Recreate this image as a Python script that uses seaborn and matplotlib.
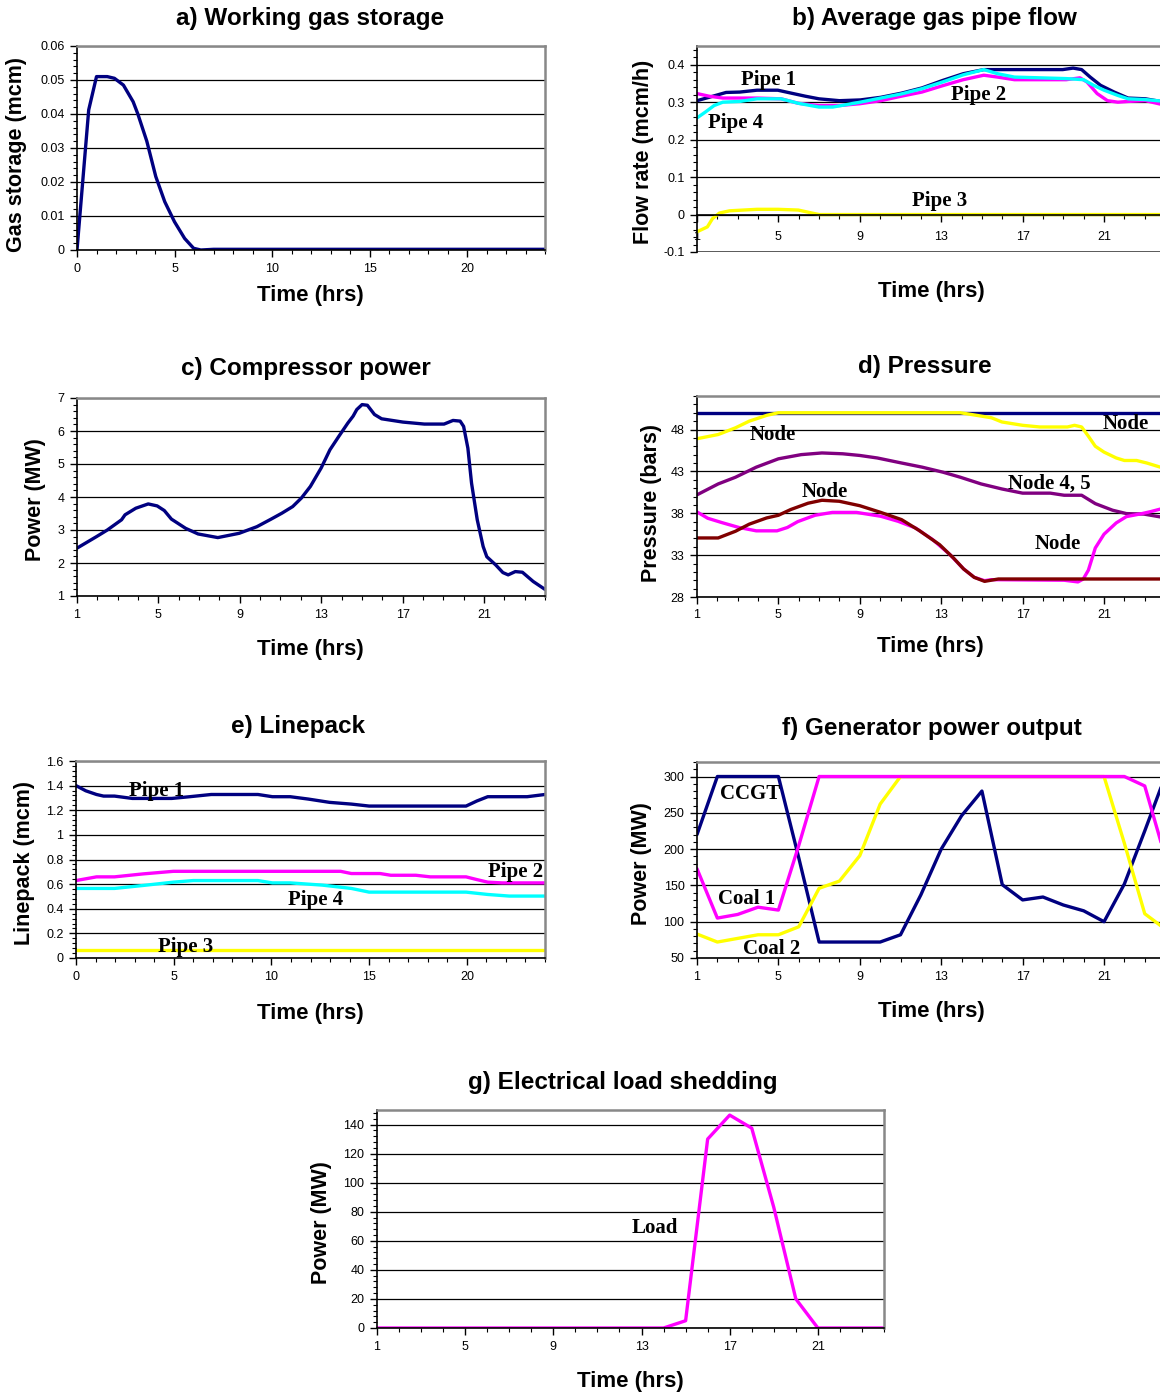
import numpy as np
import pandas as pd
import matplotlib
matplotlib.use("Agg")
import matplotlib.pyplot as plt
import seaborn as sns
from matplotlib.ticker import MultipleLocator, FixedLocator, FuncFormatter

sns.set_theme(style="white")
plt.rcParams["font.family"] = ["Liberation Sans", "DejaVu Sans"]
plt.rcParams["text.color"] = "black"
plt.rcParams["axes.labelcolor"] = "black"
plt.rcParams["xtick.color"] = "black"
plt.rcParams["ytick.color"] = "black"

# ---------------- data ----------------
# a) Working gas storage
storage_t = [0, 0.6, 1.0, 1.55, 1.92, 2.38, 2.88, 3.12, 3.58, 4.04, 4.5, 5.0, 5.52, 5.98, 6.35, 7, 10, 15, 20, 24]
storage_v = [0, 0.0412, 0.051, 0.051, 0.0505, 0.0485, 0.0436, 0.040, 0.032, 0.0216, 0.0142, 0.0083, 0.0034, 0.0005, 0, 0.0002, 0.0002, 0.0002, 0.0002, 0.0002]

# b) Average gas pipe flow
pipe1_t = [1, 1.59, 2.43, 3.1, 3.95, 4.97, 5.64, 6.32, 6.99, 8.0, 9.02, 10.03, 11.04, 12.05, 13.07, 14.08, 15.09, 15.77, 18.97, 19.48, 19.9, 20.32, 20.83, 21.5, 22.18, 23.03, 24]
pipe1_v = [0.304, 0.313, 0.326, 0.327, 0.332, 0.332, 0.324, 0.316, 0.309, 0.304, 0.306, 0.313, 0.324, 0.338, 0.358, 0.376, 0.387, 0.387, 0.387, 0.391, 0.387, 0.367, 0.345, 0.327, 0.311, 0.309, 0.300]
pipe2_t = [1, 1.59, 2.27, 3.95, 5.13, 5.98, 6.99, 8.0, 9.02, 10.03, 11.04, 12.05, 13.07, 14.08, 15.09, 15.77, 16.6, 19.14, 19.82, 20.16, 20.66, 21.17, 21.68, 22.18, 23.03, 24]
pipe2_v = [0.323, 0.316, 0.311, 0.311, 0.309, 0.297, 0.291, 0.291, 0.296, 0.304, 0.316, 0.327, 0.344, 0.360, 0.372, 0.367, 0.360, 0.360, 0.365, 0.354, 0.323, 0.304, 0.300, 0.302, 0.304, 0.292]
pipe4_t = [1, 1.42, 1.84, 2.27, 3.1, 3.95, 5.13, 5.98, 6.99, 7.67, 9.02, 10.03, 11.04, 12.05, 13.07, 14.08, 15.09, 15.77, 16.6, 19.14, 19.99, 20.49, 21.0, 21.68, 22.18, 23.03, 24]
pipe4_v = [0.258, 0.274, 0.291, 0.300, 0.302, 0.309, 0.309, 0.297, 0.287, 0.287, 0.300, 0.311, 0.322, 0.336, 0.354, 0.373, 0.387, 0.376, 0.367, 0.363, 0.360, 0.345, 0.332, 0.318, 0.309, 0.307, 0.302]
pipe3_t = [1, 1.51, 1.76, 2.1, 2.6, 3.95, 4.97, 5.98, 6.65, 7.0, 24]
pipe3_v = [-0.046, -0.033, -0.011, 0.004, 0.010, 0.014, 0.014, 0.012, 0.004, 0.0, 0.0]

# c) Compressor power
comp_t = [1, 1.96, 2.49, 3.19, 3.36, 3.89, 4.5, 4.94, 5.29, 5.64, 6.34, 6.95, 7.92, 8.97, 9.84, 10.54, 11.07, 11.6, 12.03, 12.47, 13.0, 13.43, 13.87, 14.31, 14.57, 14.75, 15.01, 15.27, 15.62, 15.97, 17.02, 18.07, 19.04, 19.48, 19.83, 20.0, 20.21, 20.39, 20.67, 20.96, 21.14, 21.58, 21.93, 22.19, 22.54, 22.89, 23.42, 24.0]
comp_v = [2.45, 2.80, 3.0, 3.31, 3.46, 3.66, 3.79, 3.73, 3.59, 3.33, 3.05, 2.88, 2.77, 2.90, 3.10, 3.33, 3.51, 3.71, 3.97, 4.32, 4.88, 5.43, 5.84, 6.24, 6.45, 6.65, 6.80, 6.78, 6.50, 6.37, 6.27, 6.21, 6.21, 6.32, 6.30, 6.14, 5.48, 4.42, 3.31, 2.50, 2.19, 1.94, 1.71, 1.64, 1.74, 1.72, 1.44, 1.20]

# d) Pressure
node1_t = [1, 24]
node1_v = [50, 50]
node3_t = [1, 2.04, 2.89, 3.57, 4.44, 5.0, 13.94, 14.79, 15.47, 15.98, 17.0, 17.85, 19.2, 19.55, 19.9, 20.23, 20.57, 21.0, 21.6, 22.0, 22.6, 23.1, 23.77, 24]
node3_v = [46.9, 47.4, 48.2, 49.0, 49.7, 50.0, 50.0, 49.67, 49.4, 48.9, 48.5, 48.3, 48.3, 48.5, 48.3, 47.2, 46.0, 45.3, 44.6, 44.3, 44.3, 44.0, 43.5, 43.4]
node45_t = [1, 2.04, 2.89, 3.91, 5.0, 6.12, 7.14, 8.16, 9.0, 9.86, 11.05, 12.07, 13.09, 13.94, 14.96, 15.98, 17.0, 18.36, 19.04, 19.9, 20.57, 21.42, 22.1, 22.96, 23.77, 24]
node45_v = [40.2, 41.5, 42.3, 43.5, 44.5, 45.0, 45.2, 45.1, 44.9, 44.6, 44.0, 43.5, 42.9, 42.3, 41.5, 40.9, 40.4, 40.4, 40.15, 40.15, 39.15, 38.36, 37.96, 37.9, 37.56, 37.45]
node2_t = [1, 1.53, 2.2, 3.06, 3.91, 4.93, 5.44, 5.95, 6.8, 7.65, 8.84, 10.03, 10.88, 11.73, 12.58, 13.43, 14.1, 14.62, 15.13, 15.47, 19.04, 19.72, 19.98, 20.23, 20.57, 21.0, 21.6, 22.1, 22.79, 23.3, 23.77, 24]
node2_v = [38.16, 37.4, 36.9, 36.3, 35.9, 35.9, 36.3, 37.0, 37.76, 38.1, 38.1, 37.64, 37.04, 36.25, 34.85, 33.06, 31.35, 30.35, 29.95, 30.07, 30.0, 29.8, 30.15, 31.2, 33.85, 35.5, 36.85, 37.6, 37.92, 38.2, 38.5, 38.6]
node6_t = [1, 2.04, 2.89, 3.57, 4.42, 5.0, 5.6, 6.46, 7.14, 7.99, 9.0, 10.03, 11.05, 11.9, 12.92, 13.6, 14.1, 14.62, 15.13, 15.81, 24]
node6_v = [35.05, 35.05, 35.85, 36.7, 37.44, 37.76, 38.44, 39.2, 39.55, 39.43, 38.9, 38.1, 37.24, 35.97, 34.25, 32.66, 31.35, 30.35, 29.87, 30.15, 30.15]

# e) Linepack
lp1_t = [0, 0.5, 1.05, 1.41, 1.97, 2.88, 3.99, 4.9, 5.82, 6.92, 8.03, 9.31, 10.05, 10.96, 11.88, 12.98, 14.09, 15.0, 16.29, 19.96, 20.51, 21.07, 21.8, 23.09, 24]
lp1_v = [1.40, 1.358, 1.328, 1.315, 1.315, 1.296, 1.296, 1.296, 1.31, 1.328, 1.328, 1.328, 1.31, 1.31, 1.291, 1.264, 1.25, 1.234, 1.234, 1.234, 1.275, 1.31, 1.31, 1.31, 1.328]
lp2_t = [0, 1.05, 1.97, 3.43, 4.98, 6.19, 13.54, 14.09, 15.56, 16.11, 17.39, 18.13, 19.96, 20.51, 21.07, 21.8, 24]
lp2_v = [0.629, 0.659, 0.659, 0.683, 0.704, 0.704, 0.704, 0.686, 0.686, 0.672, 0.672, 0.659, 0.659, 0.637, 0.616, 0.61, 0.61]
lp4_t = [0, 1.97, 3.43, 4.98, 6.0, 9.31, 10.05, 10.96, 12.6, 14.09, 15.0, 19.96, 21.07, 22.17, 24]
lp4_v = [0.565, 0.565, 0.589, 0.616, 0.629, 0.629, 0.61, 0.61, 0.592, 0.565, 0.535, 0.535, 0.516, 0.503, 0.503]
lp3_t = [0, 24]
lp3_v = [0.065, 0.065]

# f) Generator power output (hourly)
hours = list(range(1, 25))
ccgt = [220, 300, 300, 300, 300, 188, 72, 72, 72, 72, 82, 137, 200, 246, 280, 151, 130, 134, 123, 115, 100, 152, 225, 300]
coal1 = [173, 105, 110, 120, 116, 205, 300, 300, 300, 300, 300, 300, 300, 300, 300, 300, 300, 300, 300, 300, 300, 300, 287, 190]
coal2 = [83, 72, 77, 82, 82, 93, 146, 156, 191, 262, 300, 300, 300, 300, 300, 300, 300, 300, 300, 300, 300, 208, 111, 90]

# g) Electrical load shedding (hourly)
shed = [0, 0, 0, 0, 0, 0, 0, 0, 0, 0, 0, 0, 0, 0, 5, 130, 146.5, 137.5, 83, 20, 0, 0, 0, 0]

cat_ticks = [1, 5, 9, 13, 17, 21]

# ---------------- figure ----------------
W, H = 1160, 1393
fig = plt.figure(figsize=(W / 100, H / 100), dpi=100)

NAVY = "#000080"
MAG = "#FF00FF"
CYAN = "#00FFFF"
YEL = "#FFFF00"
PURP = "#800080"
MAROON = "#800000"
LW = 2.4
TITLE_FS = 17.5
XLAB_FS = 16
YLAB_FS = 15.5


def rect(l, t, r, b):
    return [l / W, 1 - b / H, (r - l) / W, (b - t) / H]


def ftext(x, y, s, size=15, rot=0):
    fig.text(x / W, 1 - y / H, s, ha="center", va="center", fontsize=size,
             fontweight="bold", rotation=rot, color="black")


def gfmt(v, pos):
    return "{:g}".format(round(v, 4))


def style(ax, ylim, ymajor, yminor, xlim, xmajor, xminor, show_right=True):
    ax.set_xlim(*xlim)
    ax.set_ylim(*ylim)
    ax.yaxis.set_major_locator(FixedLocator(ymajor))
    ax.yaxis.set_minor_locator(MultipleLocator(yminor))
    ax.xaxis.set_major_locator(FixedLocator(xmajor))
    ax.xaxis.set_minor_locator(MultipleLocator(xminor))
    ax.yaxis.set_major_formatter(FuncFormatter(gfmt))
    ax.xaxis.set_major_formatter(FuncFormatter(gfmt))
    ax.set_axisbelow(True)
    ax.yaxis.grid(True, which="major", color="black", linewidth=0.9)
    ax.xaxis.grid(False)
    for s in ["left", "bottom"]:
        ax.spines[s].set_color("black")
        ax.spines[s].set_linewidth(1.2)
    ax.spines["top"].set_color("#888888")
    ax.spines["top"].set_linewidth(1.8)
    if show_right:
        ax.spines["right"].set_color("#888888")
        ax.spines["right"].set_linewidth(1.8)
    else:
        ax.spines["right"].set_visible(False)
    ax.tick_params(which="both", direction="out", color="black", labelcolor="black",
                   left=True, bottom=True, labelsize=9, pad=4)
    ax.tick_params(which="major", length=5, width=1)
    ax.tick_params(which="minor", length=3, width=0.8)
    ax.set_xlabel("")
    ax.set_ylabel("")


def line(ax, t, v, color):
    df = pd.DataFrame({"t": t, "v": v})
    sns.lineplot(data=df, x="t", y="v", ax=ax, color=color, linewidth=LW, sort=False,
                 estimator=None)


def lab(ax, x, y, s):
    ax.text(x, y, s, ha="center", va="center", fontsize=15, fontweight="bold",
            family=["Liberation Serif", "DejaVu Serif"], color="black")


# a) Working gas storage
ax = fig.add_axes(rect(77, 46, 545, 250))
line(ax, storage_t, storage_v, NAVY)
style(ax, (0, 0.06), [0, 0.01, 0.02, 0.03, 0.04, 0.05, 0.06], 0.002, (0, 24), [0, 5, 10, 15, 20], 1)
ftext(310, 18, "a) Working gas storage", TITLE_FS)
ftext(310, 295, "Time (hrs)", XLAB_FS)
ftext(17, 154, "Gas storage (mcm)", YLAB_FS, 90)

# b) Average gas pipe flow
ax = fig.add_axes(rect(697, 46, 1160, 252))
line(ax, pipe1_t, pipe1_v, NAVY)
line(ax, pipe2_t, pipe2_v, MAG)
line(ax, pipe4_t, pipe4_v, CYAN)
line(ax, pipe3_t, pipe3_v, YEL)
style(ax, (-0.1, 0.45), [-0.1, 0, 0.1, 0.2, 0.3, 0.4], 0.02, (1, 23.75), cat_ticks, 1, show_right=False)
ax.spines["bottom"].set_position(("data", 0))
ax.axhline(-0.1, color="#333333", linewidth=1.8)
ax.tick_params(axis="x", pad=7)
lab(ax, 4.5, 0.36, "Pipe 1")
lab(ax, 14.85, 0.318, "Pipe 2")
lab(ax, 2.9, 0.244, "Pipe 4")
lab(ax, 12.9, 0.035, "Pipe 3")
ftext(934, 18, "b) Average gas pipe flow", TITLE_FS)
ftext(931, 291, "Time (hrs)", XLAB_FS)
ftext(643, 152, "Flow rate (mcm/h)", YLAB_FS, 90)

# c) Compressor power
ax = fig.add_axes(rect(77, 398, 545, 596))
line(ax, comp_t, comp_v, NAVY)
style(ax, (1, 7), [1, 2, 3, 4, 5, 6, 7], 0.2, (1, 24), cat_ticks, 1)
ftext(306, 368, "c) Compressor power", TITLE_FS)
ftext(310, 650, "Time (hrs)", XLAB_FS)
ftext(35, 500, "Power (MW)", YLAB_FS, 90)

# d) Pressure
ax = fig.add_axes(rect(697, 396, 1160, 597))
line(ax, node1_t, node1_v, NAVY)
line(ax, node3_t, node3_v, YEL)
line(ax, node45_t, node45_v, PURP)
line(ax, node2_t, node2_v, MAG)
line(ax, node6_t, node6_v, MAROON)
style(ax, (28, 52), [28, 33, 38, 43, 48], 1, (1, 23.75), cat_ticks, 1, show_right=False)
lab(ax, 4.7, 47.4, "Node")
lab(ax, 18.3, 41.6, "Node 4, 5")
lab(ax, 7.3, 40.5, "Node")
lab(ax, 18.75, 34.3, "Node")
lab(ax, 22.05, 48.7, "Node")
ftext(925, 366, "d) Pressure", TITLE_FS)
ftext(930, 646, "Time (hrs)", XLAB_FS)
ftext(651, 503, "Pressure (bars)", YLAB_FS, 90)

# e) Linepack
ax = fig.add_axes(rect(76, 761, 545, 958))
line(ax, lp1_t, lp1_v, NAVY)
line(ax, lp2_t, lp2_v, MAG)
line(ax, lp4_t, lp4_v, CYAN)
line(ax, lp3_t, lp3_v, YEL)
style(ax, (0, 1.6), [0, 0.2, 0.4, 0.6, 0.8, 1.0, 1.2, 1.4, 1.6], 0.04, (0, 24), [0, 5, 10, 15, 20], 1)
lab(ax, 4.1, 1.358, "Pipe 1")
lab(ax, 22.5, 0.70, "Pipe 2")
lab(ax, 12.25, 0.47, "Pipe 4")
lab(ax, 5.6, 0.086, "Pipe 3")
ftext(298, 727, "e) Linepack", TITLE_FS)
ftext(310, 1013, "Time (hrs)", XLAB_FS)
ftext(25, 863, "Linepack (mcm)", YLAB_FS, 90)

# f) Generator power output
ax = fig.add_axes(rect(697, 762, 1160, 958))
line(ax, hours, ccgt, NAVY)
line(ax, hours, coal2, YEL)
line(ax, hours, coal1, MAG)
style(ax, (50, 320), [50, 100, 150, 200, 250, 300], 10, (1, 23.75), cat_ticks, 1, show_right=False)
lab(ax, 3.6, 276, "CCGT")
lab(ax, 3.45, 131, "Coal 1")
lab(ax, 4.65, 63, "Coal 2")
ftext(932, 728, "f) Generator power output", TITLE_FS)
ftext(931, 1011, "Time (hrs)", XLAB_FS)
ftext(641, 864, "Power (MW)", YLAB_FS, 90)

# g) Electrical load shedding
ax = fig.add_axes(rect(377, 1110, 884, 1328))
line(ax, hours, shed, MAG)
style(ax, (0, 150), [0, 20, 40, 60, 80, 100, 120, 140], 4, (1, 24), cat_ticks, 1)
lab(ax, 13.6, 69, "Load")
ftext(623, 1083, "g) Electrical load shedding", TITLE_FS)
ftext(630, 1381, "Time (hrs)", XLAB_FS)
ftext(322, 1223, "Power (MW)", YLAB_FS, 90)

fig.savefig("out.png", dpi=100, facecolor="white")
